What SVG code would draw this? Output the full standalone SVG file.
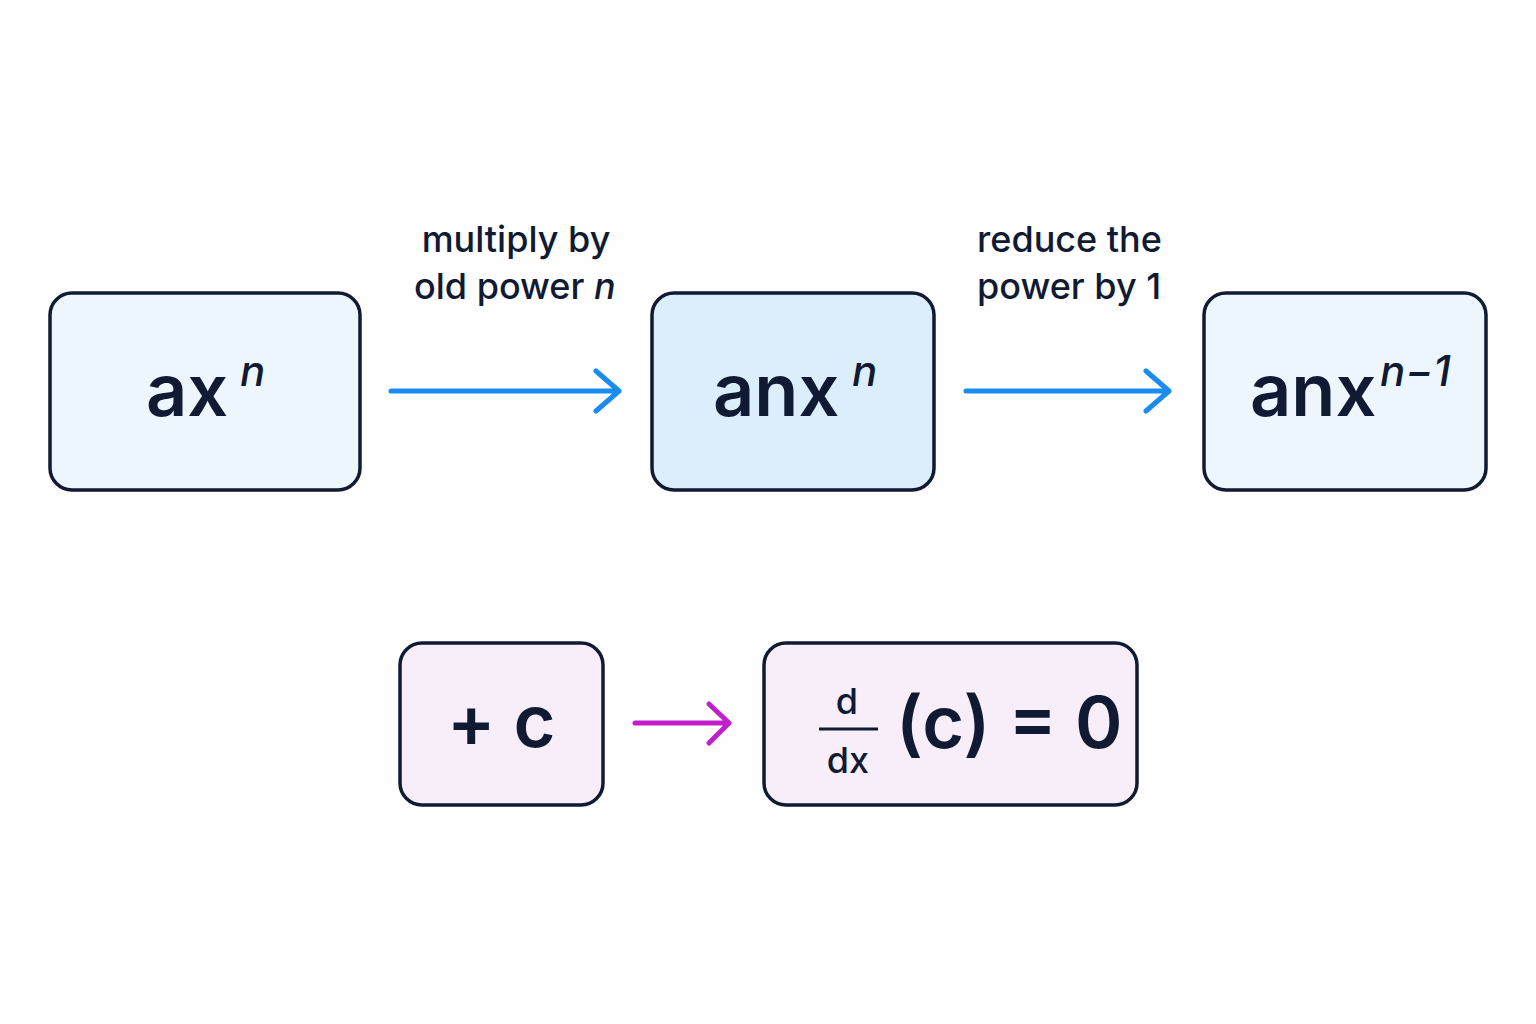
<svg xmlns="http://www.w3.org/2000/svg" width="1536" height="1024" viewBox="0 0 1536 1024">
<style>
.box{stroke:#101a33;stroke-width:3.5}
.big{font-family:Inter,"Noto Sans",sans-serif;font-weight:600;font-size:72px;fill:#101a33}
.sup{font-family:Inter,"Noto Sans",sans-serif;font-style:italic;font-weight:500;font-size:42px;fill:#101a33}
.lab{font-family:Inter,"Noto Sans",sans-serif;font-weight:500;font-size:36px;fill:#101a33}
.blue{stroke:#1a8cf0;stroke-width:5;fill:none;stroke-linecap:round;stroke-linejoin:round}
.pur{stroke:#c21fcc;stroke-width:5;fill:none;stroke-linecap:round;stroke-linejoin:round}
</style>
<rect width="1536" height="1024" fill="#fefefe"/>
<g id="n1"><rect class="box" x="50" y="293" width="310" height="197" rx="22" fill="#eef6fd"/>
<text class="big" x="146" y="416">ax</text><text class="sup" x="240" y="386">n</text></g>
<g id="n2"><rect class="box" x="652" y="293" width="282" height="197" rx="22" fill="#dcedfb"/>
<text class="big" x="713" y="416">anx</text><text class="sup" x="852" y="386">n</text></g>
<g id="n3"><rect class="box" x="1204" y="293" width="282" height="197" rx="22" fill="#eef6fd"/>
<text class="big" x="1250" y="416">anx</text><text class="sup" x="1380" y="386">n−1</text></g>
<g id="n4"><rect class="box" x="400" y="643" width="203" height="162" rx="22" fill="#f8eefa"/>
<text class="big" x="447" y="747">+ c</text></g>
<g id="n5"><rect class="box" x="764" y="643" width="373" height="162" rx="22" fill="#f8eefa"/>
<text class="lab" x="847" y="714" text-anchor="middle" font-size="42" font-weight="600">d</text>
<line x1="819" y1="729" x2="878" y2="729" stroke="#101a33" stroke-width="3"/>
<text class="lab" x="848" y="773" text-anchor="middle" font-size="42" font-weight="600">dx</text>
<text class="big" x="896" y="748" font-size="60">(c) = 0</text></g>
<g id="edges">
<path class="blue" d="M391 391H619M596 371L619 391L596 411"/>
<path class="blue" d="M966 391H1169M1146 371L1169 391L1146 411"/>
<path class="pur" d="M635 723H729M709 704L729 723L709 743"/>
<text class="lab" x="516" y="252" text-anchor="middle">multiply by</text>
<text class="lab" x="414" y="299">old power <tspan font-style="italic">n</tspan></text>
<text class="lab" x="977" y="252">reduce the</text>
<text class="lab" x="977" y="299">power by 1</text>
</g>
</svg>
